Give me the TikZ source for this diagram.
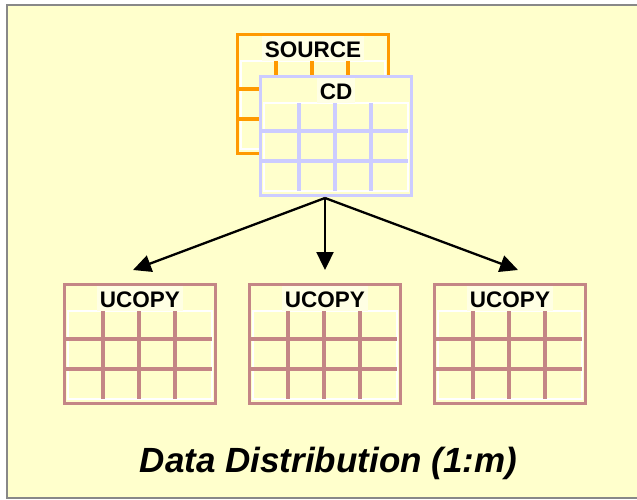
\documentclass[tikz,border=0pt]{standalone}
\usepackage{fontspec}
\setmainfont{Liberation Sans}
\usetikzlibrary{arrows.meta}
\definecolor{bgyellow}{HTML}{FFFFCC}
\definecolor{titlebg}{HTML}{FFFFE4}
\definecolor{frameg}{HTML}{888888}
\definecolor{srcorange}{HTML}{FF9900}
\definecolor{cdlav}{HTML}{CCCCFF}
\definecolor{ucrose}{HTML}{C48686}
\tikzset{
 tablebox/.style={draw=#1, line width=3pt, fill=bgyellow, minimum width=151pt, minimum height=119pt, inner sep=0pt, outer sep=0pt},
 innerbox/.style={draw=white, line width=1.8pt},
 gridline/.style={draw=#1, line width=4.5pt},
 titletext/.style={fill=titlebg, font=\bfseries\fontsize{22.5}{27}\selectfont, inner xsep=3pt, inner ysep=0pt, text height=21pt, text depth=4pt, anchor=north},
 captext/.style={font=\bfseries\itshape\fontsize{35}{42}\selectfont, anchor=base, inner sep=0pt},
 flow/.style={line width=2.3pt, -{Triangle[length=18pt, width=17pt]}},
}
\newcommand\dbtable[5]{%
 \begin{scope}[shift={(#2,#3)}]
  \node[tablebox=#4] (#1) at (77,61) {};
  \draw[innerbox] (5,28) rectangle (149,116);
  \foreach \gx in {40,76,112} \draw[gridline=#4] (\gx,28) -- (\gx,116);
  \foreach \gy in {56,86} \draw[gridline=#4] (2,\gy) -- (149,\gy);
  \node[titletext] (#1t) at (77,3) {#5};
 \end{scope}}
\begin{document}
\begin{tikzpicture}[x=1pt,y=-1pt]
\useasboundingbox (0,0) rectangle (637,499);
\begin{scope}
 \clip (0,0) rectangle (637,499);
 \draw[frameg, line width=2pt, fill=bgyellow] (7,5) rectangle (660,498);
\end{scope}
\dbtable{src}{236}{33}{srcorange}{SOURCE}
\dbtable{cd}{259}{75}{cdlav}{CD}
\dbtable{u1}{63}{283}{ucrose}{UCOPY}
\dbtable{u2}{248}{283}{ucrose}{UCOPY}
\dbtable{u3}{433}{283}{ucrose}{UCOPY}
\coordinate (split) at (325,198);
\coordinate (in1) at (133,270);
\coordinate (in2) at (325,270);
\coordinate (in3) at (518,270);
\draw[flow] (split) -- (in1);
\draw[flow] (split) -- (in2);
\draw[flow] (split) -- (in3);
\node[captext] (cap) at (328.5,472) {Data Distribution (1:m)};
\end{tikzpicture}
\end{document}
